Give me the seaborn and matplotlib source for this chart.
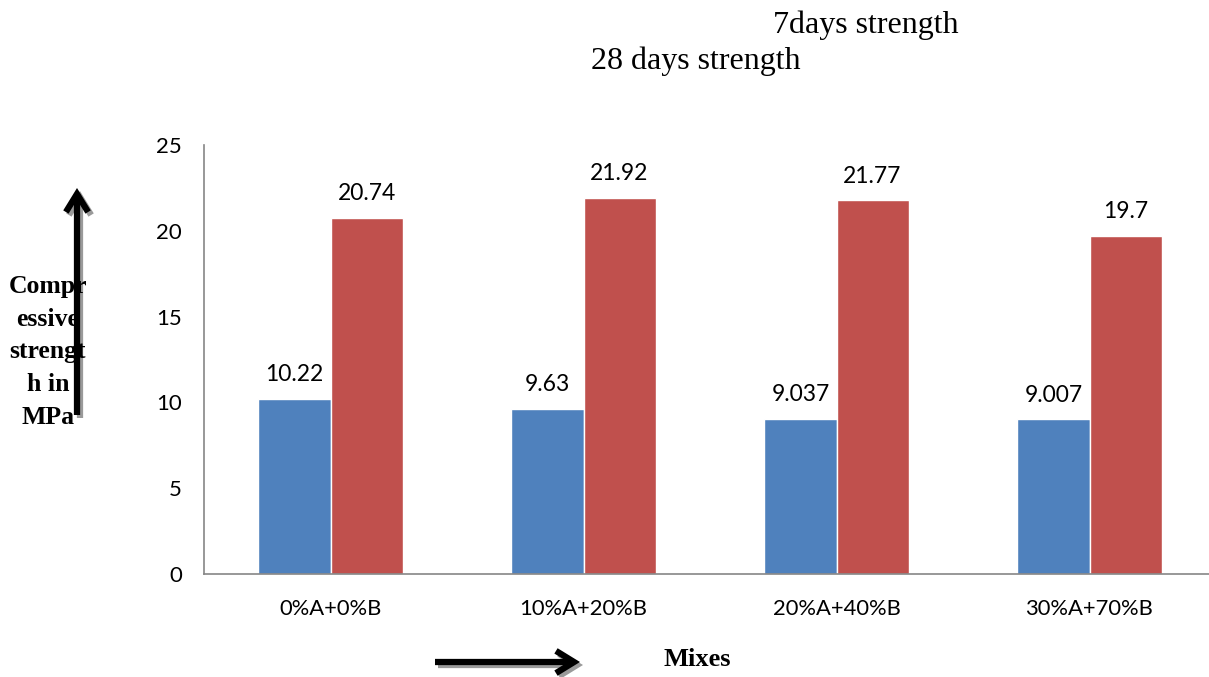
import matplotlib
matplotlib.use("Agg")
import matplotlib.pyplot as plt
import seaborn as sns
import pandas as pd

mixes = ["0%A+0%B", "10%A+20%B", "20%A+40%B", "30%A+70%B"]
strength_7 = [10.22, 9.63, 9.037, 9.007]
strength_28 = [20.74, 21.92, 21.77, 19.7]
series_names = ["7days strength", "28 days strength"]
y_ticks = [0, 5, 10, 15, 20, 25]
colors = ["#4F81BD", "#C0504D"]

df = pd.DataFrame({
    "mix": mixes * 2,
    "strength": strength_7 + strength_28,
    "series": [series_names[0]] * 4 + [series_names[1]] * 4,
})

sns.set_theme(style="white")
plt.rcParams["font.family"] = ["Lato", "DejaVu Sans"]
plt.rcParams["text.color"] = "black"

W, H = 1209, 677
fig = plt.figure(figsize=(W / 100, H / 100), dpi=100)
ax = fig.add_axes([204 / W, 1 - 574 / H, (1216 - 204) / W, (574 - 145) / H])

sns.barplot(data=df, x="mix", y="strength", hue="series", palette=colors,
            width=0.57, saturation=1, ax=ax, legend=False, errorbar=None)

for cont in ax.containers:
    ax.bar_label(cont, fmt="%g", padding=10, fontsize=16.5, color="black")

ax.set_xlim(-0.5, 3.5)
ax.set_ylim(0, 25)
ax.set_yticks(y_ticks)
ax.set_yticklabels([str(t) for t in y_ticks], fontsize=16, color="black")
ax.set_xticks(range(len(mixes)))
ax.set_xticklabels(mixes, fontsize=15.8, color="black")
ax.tick_params(axis="x", length=0, pad=18)
ax.tick_params(axis="y", length=6, width=1.2, color="#868686", direction="out", pad=10)
# boundary ticks between categories
ax.set_xticks([-0.5, 0.5, 1.5, 2.5, 3.5], minor=True)
ax.tick_params(axis="x", which="minor", length=6, width=1.2, color="#868686", direction="out")
ax.set_xlabel("")
ax.set_ylabel("")
for side in ["top", "right"]:
    ax.spines[side].set_visible(False)
for side in ["left", "bottom"]:
    ax.spines[side].set_color("#868686")
    ax.spines[side].set_linewidth(1.2)

serif = ["Liberation Serif", "DejaVu Serif"]
fig.text(773 / W, 1 - 25 / H, series_names[0], family=serif, fontsize=23, va="center", ha="left")
fig.text(591 / W, 1 - 61 / H, series_names[1], family=serif, fontsize=23, va="center", ha="left")

fig.text(48 / W, 1 - 352 / H, "Compr\nessive\nstrengt\nh in\nMPa", family=serif,
         fontsize=18.5, fontweight="bold", ha="center", va="center", multialignment="center",
         linespacing=1.55)
fig.text(697 / W, 1 - 659 / H, "Mixes", family=serif, fontsize=19, fontweight="bold",
         ha="center", va="center")


def fig_arrow(x0, y0, x1, y1, color, z):
    fig.add_artist(matplotlib.patches.FancyArrowPatch(
        (x0 / W, 1 - y0 / H), (x1 / W, 1 - y1 / H), transform=fig.transFigure,
        arrowstyle="->,head_length=13,head_width=8", lw=4.5, color=color,
        shrinkA=0, shrinkB=0, zorder=z, joinstyle="miter", capstyle="butt"))


# vertical arrow beside the y label, with drop shadow
fig_arrow(80, 418, 80, 191, "#9a9a9a", 1)
fig_arrow(77, 415, 77, 188, "black", 2)
# horizontal arrow beside "Mixes", with drop shadow
fig_arrow(438, 665, 583, 665, "#9a9a9a", 1)
fig_arrow(435, 662, 580, 662, "black", 2)

fig.savefig("out.png", dpi=100)
